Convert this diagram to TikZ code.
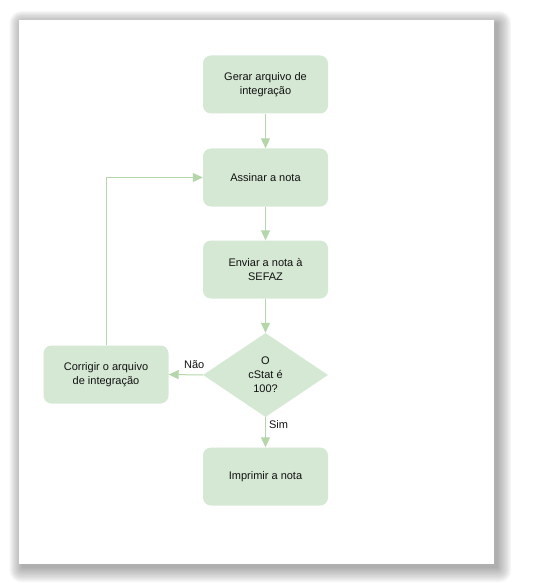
\documentclass[tikz,border=0pt]{standalone}
\usepackage{fontspec}
\setmainfont{Liberation Sans}
\usetikzlibrary{arrows.meta,shapes}

\definecolor{boxfill}{HTML}{D5E8D4}
\definecolor{flowline}{HTML}{B5D6AA}
\definecolor{txt}{HTML}{111111}

\begin{document}
\begin{tikzpicture}[x=1pt,y=-1pt,
  etapa/.style={rounded corners=8pt,fill=boxfill,minimum width=125pt,minimum height=58pt,
    inner sep=0pt,align=center,text=txt,font=\fontsize{11}{14.5}\selectfont},
  teste/.style={diamond,fill=boxfill,minimum width=125pt,minimum height=84pt,
    inner sep=0pt,align=center,text=txt,font=\fontsize{11}{14}\selectfont},
  seta/.style={draw=flowline,line width=1pt,-{Triangle[length=10pt,width=9pt]}},
  rotulo/.style={text=txt,font=\fontsize{11}{13}\selectfont,inner sep=1pt}]
\useasboundingbox (0,0) rectangle (549,588);
% folha com sombra
\foreach \i in {1,...,24}
  \fill[black,opacity=0.016,rounded corners=\i*0.5] (22.5-\i*0.55,24-\i*0.55) rectangle (497+\i*0.6,567+\i*0.65);
\fill[white] (19,20) rectangle (494,564);
% etapas
\node[etapa] (gerar) at (265.5,84.5) {Gerar arquivo de\\integração};
\node[etapa] (assinar) at (265.5,177.5) {Assinar a nota};
\node[etapa] (enviar) at (265.5,269.5) {Enviar a nota à\\SEFAZ};
\node[teste] (cstat) at (265.5,375) {O\\cStat é\\100?};
\node[etapa] (imprimir) at (265.5,476.5) {Imprimir a nota};
\node[etapa] (corrigir) at (106,374.5) {Corrigir o arquivo\\de integração};
% ligacoes
\draw[seta] (gerar) -- (assinar);
\draw[seta] (assinar) -- (enviar);
\draw[seta] (enviar) -- (cstat);
\draw[seta] (cstat) -- node[rotulo,right,pos=0.25,xshift=2pt]{Sim} (imprimir);
\draw[seta] (cstat.west) -- node[rotulo,above,pos=0.25,yshift=5pt]{Não} (corrigir.east);
\draw[seta] (corrigir.north) |- (assinar.west);
\end{tikzpicture}
\end{document}
